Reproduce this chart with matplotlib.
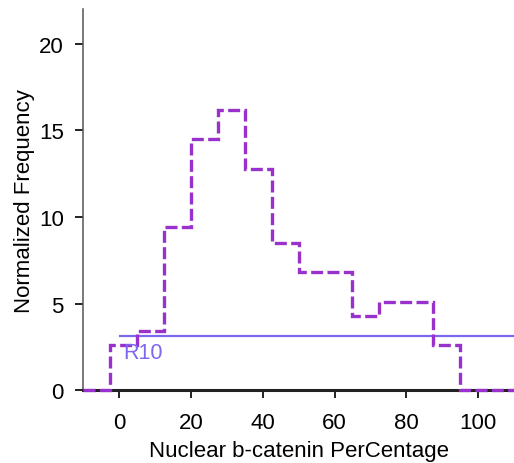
import matplotlib
matplotlib.use("Agg")
import matplotlib.pyplot as plt
import numpy as np

plt.rcParams['font.family'] = ['Liberation Sans', 'DejaVu Sans']

bin_edges = [-10, -2.5, 5, 12.5, 20, 27.5, 35, 42.5, 50, 57.5, 65, 72.5, 80, 87.5, 95, 102.5, 110]
freq = [0, 2.6, 3.4, 9.4, 14.5, 16.2, 12.8, 8.5, 6.8, 6.8, 4.3, 5.1, 5.1, 2.6, 0, 0]
ref_level = 3.1
ref_start = 0
ref_label = "R10"
xticks = [0, 20, 40, 60, 80, 100]
yticks = [0, 5, 10, 15, 20]

fig = plt.figure(figsize=(5.14, 4.64), dpi=100)
ax = fig.add_axes([0.162, 0.157, 0.838, 0.821])

ax.stairs(freq, bin_edges, color='#9932CC', linewidth=2.4, linestyle=(0, (3.6, 1.3)),
          zorder=3, clip_on=False)
ax.hlines(ref_level, ref_start, 110, color='#7B68EE', linewidth=1.6)
ax.text(ref_start + 1, ref_level - 0.3, ref_label, color='#7B68EE', fontsize=15.5, ha='left', va='top')

ax.set_xlim(-10, 110)
ax.set_ylim(0, 22)
ax.set_xticks(xticks)
ax.set_yticks(yticks)
for s in ['top', 'right']:
    ax.spines[s].set_visible(False)
ax.spines['left'].set_color('#555555')
ax.spines['left'].set_linewidth(1.1)
ax.spines['bottom'].set_color('#222222')
ax.spines['bottom'].set_linewidth(2.2)
ax.tick_params(axis='both', labelsize=16, length=6, width=1.4, direction='out', color='#222222')
ax.tick_params(axis='x', pad=10)
ax.tick_params(axis='y', pad=8)
ax.set_xlabel('Nuclear b-catenin PerCentage', fontsize=16, labelpad=4.5)
ax.set_ylabel('Normalized Frequency', fontsize=16, labelpad=3)

fig.savefig('out.png', dpi=100)
